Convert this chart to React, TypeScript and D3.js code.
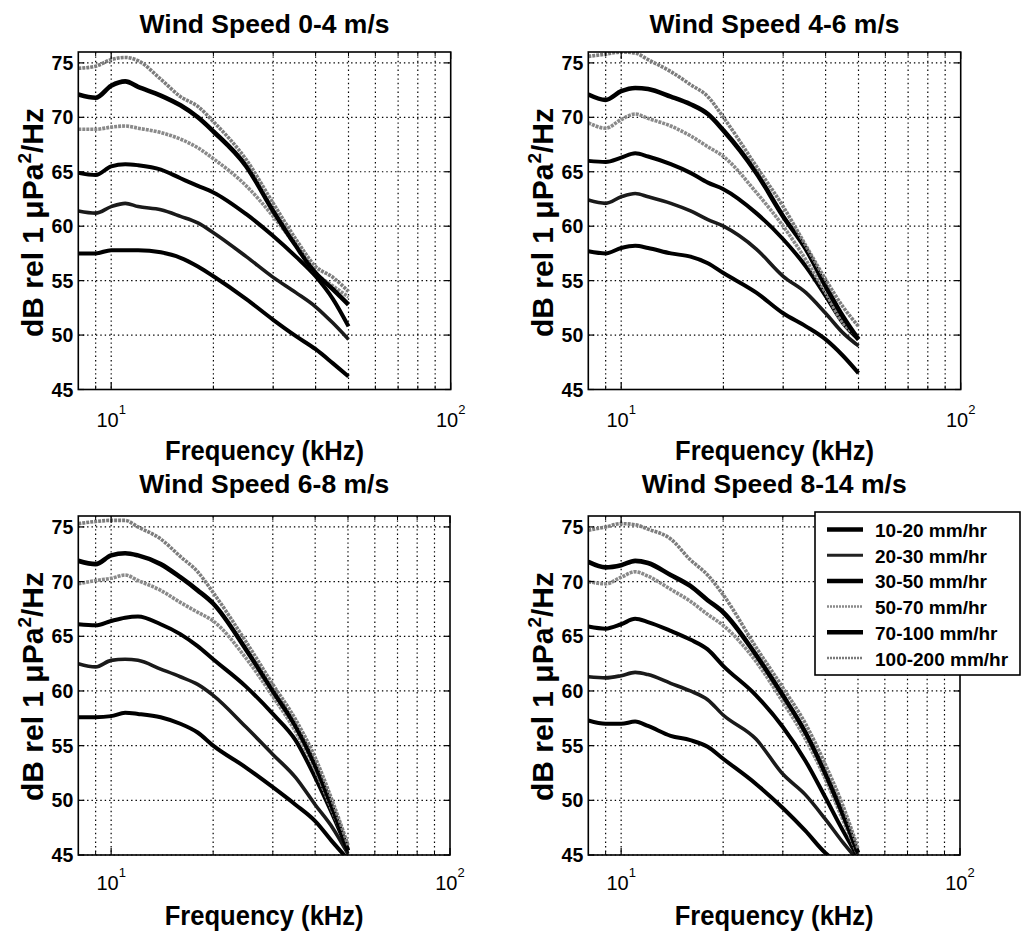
import React from 'react';
import * as d3 from 'd3';

// ---------------- data ----------------
const freqs = [8, 9, 10, 11, 12, 14, 16, 18, 20, 25, 30, 35, 40, 45, 50]; // kHz
const rainLabels = ['10-20 mm/hr', '20-30 mm/hr', '30-50 mm/hr', '50-70 mm/hr', '70-100 mm/hr', '100-200 mm/hr'];
const panelTitles = ['Wind Speed 0-4 m/s', 'Wind Speed 4-6 m/s', 'Wind Speed 6-8 m/s', 'Wind Speed 8-14 m/s'];
const yTicks = [45, 50, 55, 60, 65, 70, 75];
const xMajorTicks = [10, 100];
const xGridTicks = [9, 10, 20, 30, 40, 50, 60, 70, 80, 90];

// dB rel 1 uPa^2/Hz, one row per rain-rate class (same order as rainLabels)
const wind0to4 = [
  [57.5, 57.5, 57.8, 57.8, 57.8, 57.6, 57.1, 56.3, 55.4, 53.3, 51.4, 49.9, 48.7, 47.4, 46.2],
  [61.4, 61.2, 61.8, 62.1, 61.8, 61.5, 60.9, 60.3, 59.4, 57.2, 55.3, 53.9, 52.6, 51.1, 49.6],
  [64.9, 64.7, 65.5, 65.7, 65.6, 65.2, 64.4, 63.7, 63.1, 61.1, 59.1, 57.2, 55.4, 53.3, 50.8],
  [68.9, 68.9, 69.1, 69.2, 69.0, 68.6, 68.0, 67.2, 66.2, 63.7, 60.9, 58.2, 55.7, 54.5, 53.5],
  [72.1, 71.8, 72.9, 73.3, 72.8, 72.0, 71.1, 70.0, 68.7, 65.5, 61.4, 58.2, 55.7, 54.2, 52.8],
  [74.5, 74.7, 75.3, 75.5, 75.2, 73.5, 71.9, 71.0, 69.6, 66.1, 62.1, 58.8, 56.3, 55.3, 54.0],
];
const wind4to6 = [
  [57.7, 57.5, 58.0, 58.2, 58.0, 57.5, 57.2, 56.6, 55.7, 53.9, 52.0, 50.8, 49.6, 48.1, 46.5],
  [62.4, 62.1, 62.7, 63.0, 62.7, 62.1, 61.4, 60.6, 60.0, 57.9, 55.4, 53.9, 52.0, 50.2, 49.0],
  [66.0, 65.9, 66.3, 66.7, 66.4, 65.7, 64.9, 64.0, 63.4, 61.2, 58.8, 56.3, 53.6, 51.1, 49.6],
  [69.5, 69.0, 69.8, 70.3, 69.9, 69.2, 68.3, 67.3, 66.4, 63.1, 60.0, 56.9, 53.9, 51.1, 49.9],
  [72.1, 71.6, 72.4, 72.7, 72.6, 71.9, 71.2, 70.3, 68.8, 64.9, 60.9, 57.9, 54.5, 51.7, 49.6],
  [75.6, 75.8, 76.0, 75.9, 75.3, 74.2, 73.0, 71.9, 70.0, 65.5, 61.8, 58.2, 55.1, 52.6, 50.8],
];
const wind6to8 = [
  [57.6, 57.6, 57.7, 58.0, 57.9, 57.6, 57.0, 56.2, 55.0, 53.0, 51.2, 49.6, 48.1, 46.2, 44.6],
  [62.5, 62.2, 62.8, 62.9, 62.8, 62.0, 61.3, 60.6, 59.6, 56.7, 54.2, 52.1, 49.6, 47.5, 45.1],
  [66.1, 66.0, 66.4, 66.7, 66.8, 66.1, 65.2, 64.1, 62.9, 60.4, 57.9, 55.5, 52.1, 48.7, 45.4],
  [69.8, 70.1, 70.3, 70.6, 70.1, 69.2, 68.1, 67.2, 66.4, 63.0, 59.5, 56.3, 52.8, 49.0, 45.6],
  [71.9, 71.6, 72.4, 72.6, 72.4, 71.6, 70.4, 69.2, 68.0, 63.8, 60.0, 56.8, 53.2, 49.3, 45.4],
  [75.3, 75.5, 75.6, 75.6, 75.0, 73.9, 72.3, 70.9, 69.0, 64.5, 60.6, 57.4, 53.9, 49.9, 45.9],
];
const wind8to14 = [
  [57.3, 57.0, 57.0, 57.2, 56.8, 55.9, 55.5, 54.9, 53.8, 51.5, 49.3, 47.2, 45.2, 44.0, 43.2],
  [61.3, 61.2, 61.4, 61.7, 61.5, 60.7, 60.0, 59.2, 57.8, 55.6, 52.4, 50.5, 48.3, 46.2, 44.5],
  [65.9, 65.7, 66.1, 66.6, 66.3, 65.5, 64.7, 63.8, 62.3, 59.6, 56.7, 53.6, 50.3, 47.3, 44.8],
  [70.0, 69.8, 70.4, 70.9, 70.5, 69.3, 68.2, 67.0, 66.0, 62.7, 59.0, 55.6, 52.0, 48.3, 45.0],
  [71.8, 71.3, 71.5, 71.9, 71.7, 70.6, 69.6, 68.3, 67.2, 63.3, 59.6, 56.2, 52.5, 48.8, 45.2],
  [74.7, 75.0, 75.3, 75.2, 74.8, 73.9, 72.0, 70.6, 68.8, 64.0, 60.3, 57.0, 53.3, 49.6, 45.6],
];
const panelData = [wind0to4, wind4to6, wind6to8, wind8to14];

// ---------------- styles / layout ----------------
const seriesStyle = [
  { color: '#000000', width: 4, dash: null },
  { color: '#1a1a1a', width: 3.6, dash: null },
  { color: '#000000', width: 4, dash: null },
  { color: '#8a8a8a', width: 3.6, dash: '3,1' },
  { color: '#000000', width: 4.6, dash: null },
  { color: '#7d7d7d', width: 3.6, dash: '3,1' },
];
const legendStyle = [
  { color: '#000000', width: 4.5, dash: null },
  { color: '#222222', width: 3, dash: null },
  { color: '#000000', width: 4.5, dash: null },
  { color: '#8a8a8a', width: 2.5, dash: '2,1' },
  { color: '#000000', width: 4.5, dash: null },
  { color: '#7a7a7a', width: 2.5, dash: '2,1' },
];

const layout = [
  { x0: 78.3, x1: 450.7, y0: 52, y1: 389.5, titleY: 33, xlabY: 460, tickY: 427, yLabX: 43, yLabY: 222.5, titleLen: 250 },
  { x0: 588.3, x1: 960.7, y0: 52, y1: 389.5, titleY: 33, xlabY: 460, tickY: 427, yLabX: 553, yLabY: 222.5, titleLen: 250 },
  { x0: 78.3, x1: 450, y0: 516, y1: 855, titleY: 493, xlabY: 925, tickY: 890, yLabX: 43, yLabY: 686.5, titleLen: 250 },
  { x0: 588.3, x1: 960, y0: 516, y1: 855, titleY: 493, xlabY: 925, tickY: 890, yLabX: 553, yLabY: 686.5, titleLen: 265 },
];

const FONT = "'Liberation Sans', Arial, Helvetica, sans-serif";

function Panel({ idx }: { idx: number }) {
  const L = layout[idx];
  const xs = d3.scaleLog().domain([8, 100]).range([L.x0, L.x1]);
  const ys = d3.scaleLinear().domain([45, 76]).range([L.y1, L.y0]);
  const line = d3
    .line<number>()
    .x((_, i) => xs(freqs[i]))
    .y((v) => ys(v))
    .curve(d3.curveMonotoneX);
  const clipId = `clip${idx}`;
  const cx = (L.x0 + L.x1) / 2;
  const minorTicks = [9, 20, 30, 40, 50, 60, 70, 80, 90];
  return (
    <g>
      <defs>
        <clipPath id={clipId}>
          <rect x={L.x0} y={L.y0} width={L.x1 - L.x0} height={L.y1 - L.y0} />
        </clipPath>
      </defs>
      {/* grid */}
      {xGridTicks.map((t) => (
        <line key={'gx' + t} x1={xs(t)} x2={xs(t)} y1={L.y0} y2={L.y1} stroke="#000" strokeWidth={1.2} strokeDasharray="1.4,3" />
      ))}
      {yTicks.map((t) => (
        <line key={'gy' + t} x1={L.x0} x2={L.x1} y1={ys(t)} y2={ys(t)} stroke="#000" strokeWidth={1.2} strokeDasharray="1.4,3" />
      ))}
      {/* series */}
      <g clipPath={`url(#${clipId})`}>
        {panelData[idx].map((vals, si) => (
          <path
            key={si}
            d={line(vals) || ''}
            fill="none"
            stroke={seriesStyle[si].color}
            strokeWidth={seriesStyle[si].width}
            strokeDasharray={seriesStyle[si].dash || undefined}
            strokeLinejoin="round"
          />
        ))}
      </g>
      {/* frame */}
      <rect x={L.x0} y={L.y0} width={L.x1 - L.x0} height={L.y1 - L.y0} fill="none" stroke="#000" strokeWidth={1.6} />
      {/* ticks */}
      {xMajorTicks.map((t) => (
        <g key={'mt' + t}>
          <line x1={xs(t)} x2={xs(t)} y1={L.y1} y2={L.y1 - 7} stroke="#000" strokeWidth={1.2} />
          <line x1={xs(t)} x2={xs(t)} y1={L.y0} y2={L.y0 + 7} stroke="#000" strokeWidth={1.2} />
        </g>
      ))}
      {minorTicks.map((t) => (
        <g key={'mnt' + t}>
          <line x1={xs(t)} x2={xs(t)} y1={L.y1} y2={L.y1 - 4} stroke="#000" strokeWidth={1} />
          <line x1={xs(t)} x2={xs(t)} y1={L.y0} y2={L.y0 + 4} stroke="#000" strokeWidth={1} />
        </g>
      ))}
      {yTicks.map((t) => (
        <g key={'yt' + t}>
          <line x1={L.x0} x2={L.x0 + 6} y1={ys(t)} y2={ys(t)} stroke="#000" strokeWidth={1.2} />
          <line x1={L.x1} x2={L.x1 - 6} y1={ys(t)} y2={ys(t)} stroke="#000" strokeWidth={1.2} />
          <text x={L.x0 - 5} y={ys(t) + 7} textAnchor="end" fontSize={19.5} fontWeight="bold" fontFamily={FONT}>
            {t}
          </text>
        </g>
      ))}
      {xMajorTicks.map((t) => (
        <text key={'xl' + t} x={xs(t)} y={L.tickY} textAnchor="middle" fontSize={20} fontFamily={FONT}>
          10
          <tspan dy={-13} fontSize={13}>
            {Math.round(Math.log10(t))}
          </tspan>
        </text>
      ))}
      {/* labels */}
      <text x={cx} y={L.titleY} textAnchor="middle" fontSize={26} fontWeight="bold" fontFamily={FONT} textLength={L.titleLen} lengthAdjust="spacingAndGlyphs">
        {panelTitles[idx]}
      </text>
      <text x={cx} y={L.xlabY} textAnchor="middle" fontSize={28} fontWeight="bold" fontFamily={FONT} textLength={199} lengthAdjust="spacingAndGlyphs">
        Frequency (kHz)
      </text>
      <text
        transform={`translate(${L.yLabX},${L.yLabY}) rotate(-90)`}
        textAnchor="middle"
        fontSize={30}
        fontWeight="bold"
        fontFamily={FONT}
      >
        dB rel 1 μPa
        <tspan dy={-12} fontSize={19}>
          2
        </tspan>
        <tspan dy={12}>/Hz</tspan>
      </text>
    </g>
  );
}

function Legend() {
  const bx = 815;
  const by = 512;
  const bw = 205;
  const bh = 163;
  const rowY = d3.range(rainLabels.length).map((i) => 537 + i * 25.7);
  return (
    <g>
      <rect x={bx} y={by} width={bw} height={bh} fill="#fff" stroke="#000" strokeWidth={1.6} />
      {rainLabels.map((lab, i) => (
        <g key={lab}>
          <line
            x1={827}
            x2={863}
            y1={rowY[i] - 7.5}
            y2={rowY[i] - 7.5}
            stroke={legendStyle[i].color}
            strokeWidth={legendStyle[i].width}
            strokeDasharray={legendStyle[i].dash || undefined}
          />
          <text x={875} y={rowY[i]} fontSize={19} fontFamily={FONT} fontWeight="bold">
            {lab}
          </text>
        </g>
      ))}
    </g>
  );
}

export default function App() {
  return (
    <svg
      width={1021}
      height={936}
      style={{ position: 'absolute', left: 0, top: 0, display: 'block', background: '#fff' }}
    >
      <rect width={1021} height={936} fill="#fff" />
      {layout.map((_, i) => (
        <Panel key={i} idx={i} />
      ))}
      <Legend />
    </svg>
  );
}
